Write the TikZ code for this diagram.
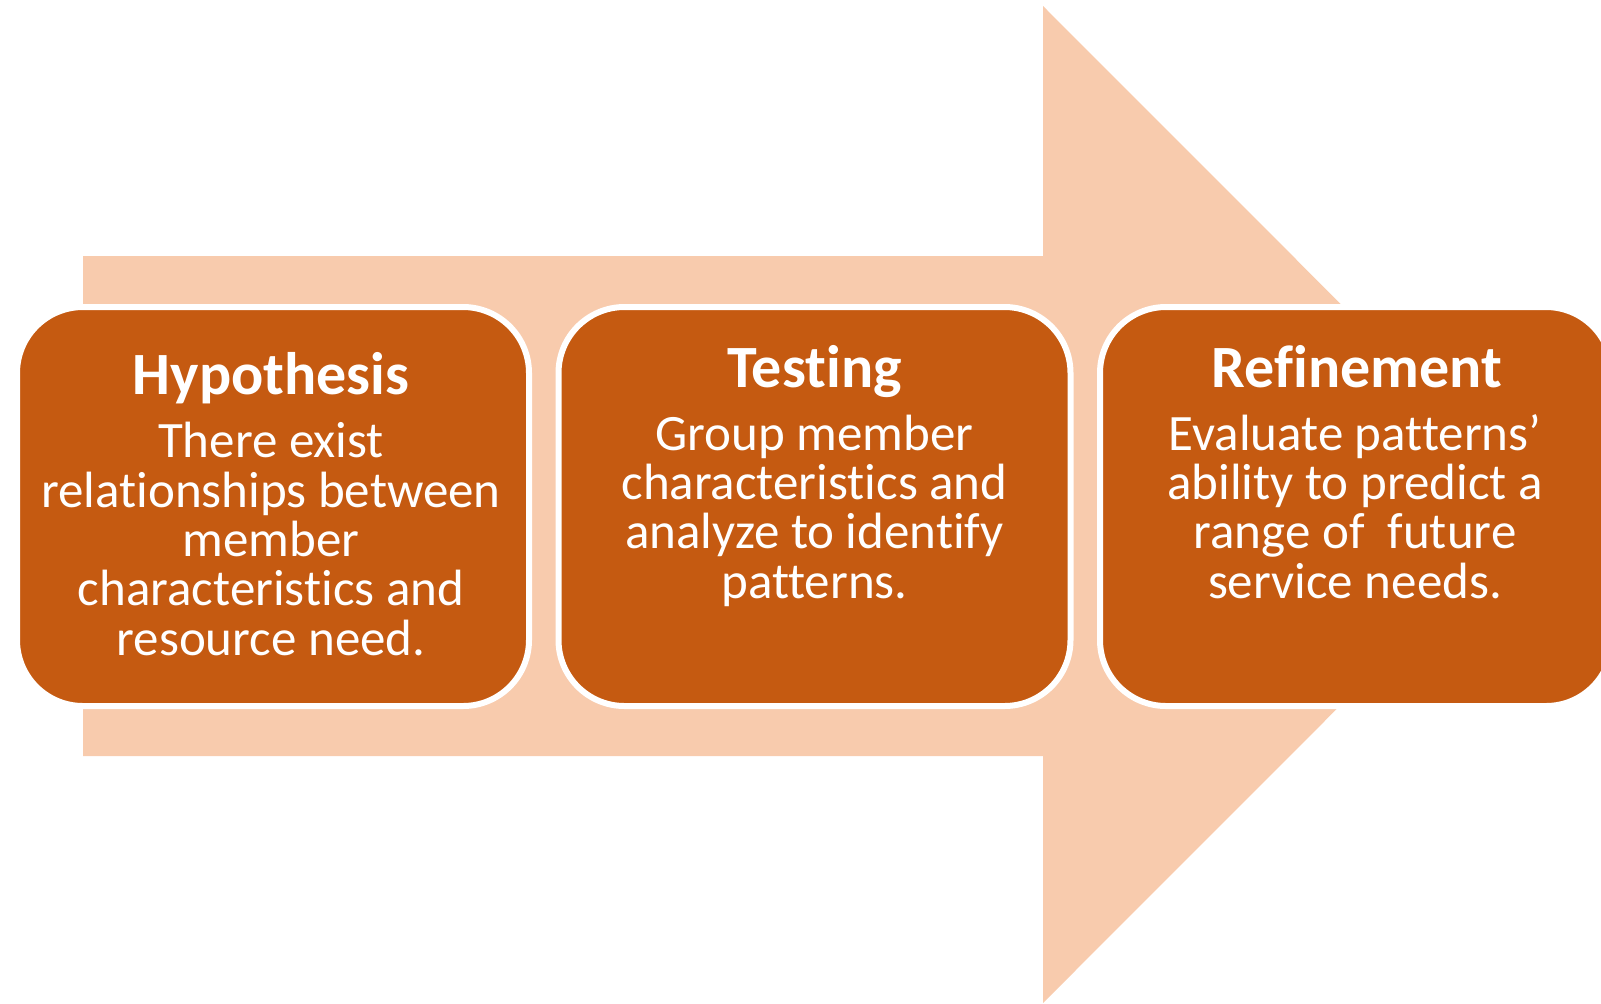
\documentclass[tikz,border=0pt]{standalone}
\usepackage{fontspec}
\setmainfont[Ligatures=NoCommon]{Carlito}
\usepackage{tikz}
\definecolor{shaft}{HTML}{F8CBAD}
\definecolor{stage}{HTML}{C55A11}
\tikzset{
  stagebox/.style={draw=white, line width=3pt, fill=stage, rounded corners=33pt,
    minimum width=256pt, minimum height=199.5pt, inner sep=0pt},
  stagetitle/.style={text=white, font=\bfseries\fontsize{30}{30}\selectfont, anchor=base, inner sep=0pt},
  stagetext/.style={text=white, font=\fontsize{25.5}{24.65}\selectfont, align=center, anchor=base, inner sep=0pt}
}

\begin{document}
\begin{tikzpicture}[x=0.5pt,y=-0.5pt]
\useasboundingbox (0,0) rectangle (1601,1003);
\fill[shaft] (83,256)--(1043,256)--(1043,6)--(1541,504.5)--(1043,1003)--(1043,756)--(83,756)--cycle;
\node[stagebox] (hyp) at (273,506.5) {};
\node[stagebox] (test) at (814.5,506.5) {};
\node[stagebox] (ref) at (1356,506.5) {};
\node[stagetitle] (hyptitle) at (271,394) {Hypothesis};
\node[stagetitle] (testtitle) at (814.5,387) {Testing};
\node[stagetitle] (reftitle) at (1357,387) {Refinement};
\node[stagetext] (hyptext) at (271,655) {There exist\\relationships between\\member\\characteristics and\\resource need.};
\node[stagetext] (testtext) at (814.5,598) {Group member\\characteristics and\\analyze to identify\\patterns.};
\node[stagetext] (reftext) at (1355,598) {Evaluate patterns’\\ability to predict a\\range of~ future\\service needs.};
\end{tikzpicture}
\end{document}
